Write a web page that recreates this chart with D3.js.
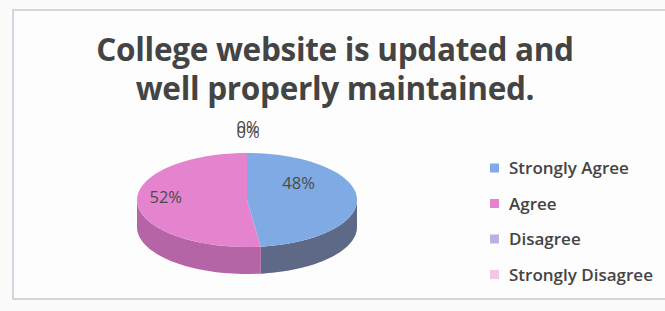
<!DOCTYPE html>
<html>
<head>
<meta charset="utf-8">
<script src="https://cdn.jsdelivr.net/npm/d3@7"></script>
<style>
  body { margin: 0; background: #fbfbfb; }
  text { font-family: "Open Sans", "Noto Sans", sans-serif; }
</style>
</head>
<body>
<svg id="chart" width="665" height="311"></svg>
<script>
// data
const categories = ["Strongly Agree", "Agree", "Disagree", "Strongly Disagree"];
const values = [48, 52, 0, 0];
const titleLines = ["College website is updated and", "well properly maintained."];

const topColors = ["#80aae3", "#e484cf", "#b7b2de", "#f2c6e6"];
const sideColors = ["#5d6986", "#b565a6", "#8b86aa", "#c99abc"];

const svg = d3.select("#chart");

// frame
svg.append("rect")
  .attr("x", 13).attr("y", 10)
  .attr("width", 680).attr("height", 289)
  .attr("fill", "#fdfdfd")
  .attr("stroke", "#c9c9d6").attr("stroke-width", 1.5);

// title
svg.append("g").selectAll("text")
  .data(titleLines)
  .join("text")
  .attr("x", 335)
  .attr("y", (d, i) => 61 + i * 39)
  .attr("text-anchor", "middle")
  .attr("font-size", 31.5)
  .attr("font-weight", "bold")
  .attr("fill", "#444")
  .attr("letter-spacing", -0.3)
  .text(d => d);

// 3d pie
const cx = 247, cy = 200, rx = 110, ry = 47, depth = 27;
const pie = d3.pie().sort(null).value(d => d)(values);

function pt(a, dy) {
  return [cx + rx * Math.sin(a), cy - ry * Math.cos(a) + (dy || 0)];
}

function sidePath(s, e) {
  const a0 = Math.max(s, Math.PI / 2), a1 = Math.min(e, 3 * Math.PI / 2);
  if (a1 <= a0) return null;
  const n = 40, top = [], bot = [];
  for (let k = 0; k <= n; k++) {
    const a = a0 + (a1 - a0) * k / n;
    top.push(pt(a));
    bot.push(pt(a, depth));
  }
  return d3.line()(top.concat(bot.reverse())) + "Z";
}

function topPath(s, e) {
  if (e - s <= 0) return null;
  const n = 60, p = [[cx, cy]];
  for (let k = 0; k <= n; k++) p.push(pt(s + (e - s) * k / n));
  return d3.line()(p) + "Z";
}

const g = svg.append("g");
g.selectAll("path.side")
  .data(pie.filter(d => sidePath(d.startAngle, d.endAngle)))
  .join("path")
  .attr("class", "side")
  .attr("d", d => sidePath(d.startAngle, d.endAngle))
  .attr("fill", d => sideColors[d.index]);

g.selectAll("path.top")
  .data(pie.filter(d => d.endAngle > d.startAngle))
  .join("path")
  .attr("class", "top")
  .attr("d", d => topPath(d.startAngle, d.endAngle))
  .attr("fill", d => topColors[d.index]);

// data labels
const total = d3.sum(values);
const labelR = [0.47, 0.74];
svg.append("g").selectAll("text")
  .data(pie)
  .join("text")
  .attr("x", d => {
    if (d.value === 0) return cx + 1;
    const m = (d.startAngle + d.endAngle) / 2;
    return cx + rx * labelR[d.index] * Math.sin(m);
  })
  .attr("y", d => {
    if (d.value === 0) return 133 + (d.index - 2) * 5;
    return d.index === 0 ? cy - 11 : cy + 3;
  })
  .attr("text-anchor", "middle")
  .attr("font-size", 16.5)
  .attr("fill", "#4a4a4a")
  .text(d => Math.round(d.value / total * 100) + "%");

// legend
const leg = svg.append("g").selectAll("g")
  .data(categories)
  .join("g")
  .attr("transform", (d, i) => `translate(490,${168 + i * 35.5})`);
leg.append("rect")
  .attr("x", 0).attr("y", -4.5)
  .attr("width", 9).attr("height", 9)
  .attr("fill", (d, i) => topColors[i]);
leg.append("text")
  .attr("x", 19).attr("y", 6)
  .attr("font-size", 17)
  .attr("font-weight", 600)
  .attr("fill", "#444")
  .attr("letter-spacing", 0)
  .text(d => d);
</script>
</body>
</html>
